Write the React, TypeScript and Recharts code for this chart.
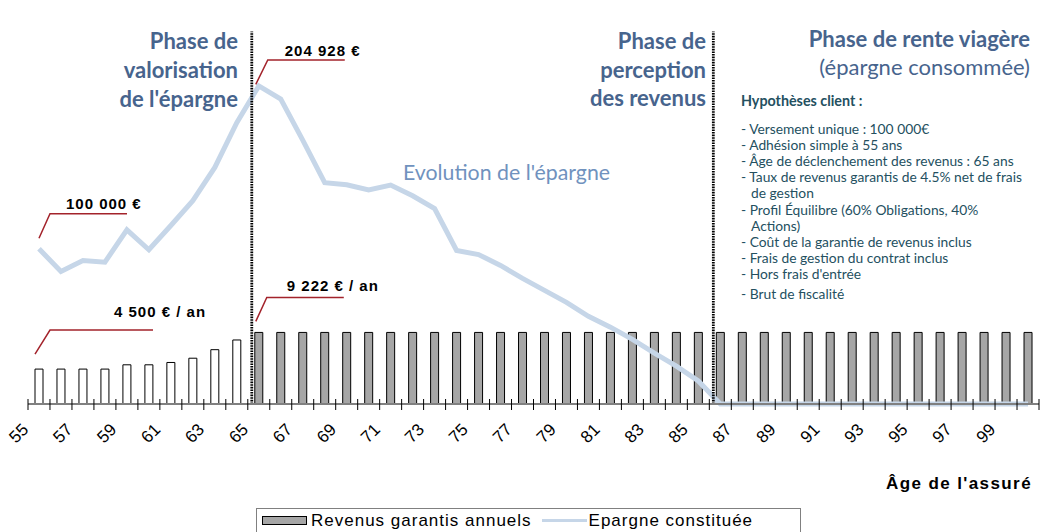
import React from "react";
import {
  ComposedChart,
  Bar,
  Line,
  XAxis,
  YAxis,
  Legend,
  ReferenceLine,
  Cell,
} from "recharts";

// Âges de l'assuré (axe des catégories)
const ages = [
  55, 56, 57, 58, 59, 60, 61, 62, 63, 64, 65, 66, 67, 68, 69, 70, 71, 72, 73, 74, 75, 76, 77,
  78, 79, 80, 81, 82, 83, 84, 85, 86, 87, 88, 89, 90, 91, 92, 93, 94, 95, 96, 97, 98, 99, 100,
];

// Revenus garantis annuels (€)
const revenus = [
  4500, 4500, 4500, 4500, 5050, 5050, 5350, 5900, 7000, 8250, 9222, 9222, 9222, 9222, 9222,
  9222, 9222, 9222, 9222, 9222, 9222, 9222, 9222, 9222, 9222, 9222, 9222, 9222, 9222, 9222,
  9222, 9222, 9222, 9222, 9222, 9222, 9222, 9222, 9222, 9222, 9222, 9222, 9222, 9222, 9222,
  9222,
];

// Epargne constituée (€)
const epargne = [
  100000, 85400, 92500, 91400, 112200, 99400, 115000, 131000, 152400, 181300, 204928, 196500,
  170000, 142600, 141300, 137900, 141100, 134200, 125900, 98900, 96300, 89300, 80900, 73200,
  65500, 56500, 49500, 41700, 32800, 24400, 14800, 0, 0, 0, 0, 0, 0, 0, 0, 0, 0, 0, 0, 0, 0, 0,
];

const tickLabels = [55, 57, 59, 61, 63, 65, 67, 69, 71, 73, 75, 77, 79, 81, 83, 85, 87, 89, 91, 93, 95, 97, 99];

// début des phases (lignes pointillées)
const phaseStarts = [65, 86];
const phaseLineTop = 240000;
const revenusStartAge = 65;

const phase1 = ["Phase de", "valorisation", "de l'épargne"];
const phase2 = ["Phase de", "perception", "des revenus"];
const phase3Title = "Phase de rente viagère";
const phase3Sub = "(épargne consommée)";
const hypoTitle = "Hypothèses client :";
const hypoLines = [
  "- Versement unique : 100 000€",
  "- Adhésion simple à 55 ans",
  "- Âge de déclenchement des revenus : 65 ans",
  "- Taux de revenus garantis de 4.5% net de frais",
  "  de gestion",
  "- Profil Équilibre (60% Obligations, 40%",
  "  Actions)",
  "- Coût de la garantie de revenus inclus",
  "- Frais de gestion du contrat inclus",
  "- Hors frais d'entrée",
  "- Brut de fiscalité",
];

const W = 1040;
const H = 532;
const M = { top: 16, right: 1, bottom: 68, left: 28 };
const XAXIS_H = 60;
const AXIS_Y = H - M.bottom - XAXIS_H;
const BAND = (W - M.left - M.right) / ages.length;

const BLUE_TITLE = "#47648d";
const LINE_COLOR = "#c6d6e8";
const GREY_BAR = "#a6a6a6";
const RED = "#a3232b";
const ARIAL = "'Liberation Sans', Arial, sans-serif";
const LATO = "Lato, 'Open Sans', sans-serif";

const data = ages.map((age, i) => ({ age, revenus: revenus[i], epargne: epargne[i] }));

const fmt = (v: number) => String(v).replace(/\B(?=(\d{3})+(?!\d))/g, " ");

// offsets des annotations (relatifs au point / à la barre)
const lineNotes: Record<number, any> = {
  0: { sx: 0, sy: -10.5, cx: 11, cy: -35, ex: 88, tx: 27, ty: -40 },
  10: { sx: -3, sy: -1.5, cx: 9, cy: -26, ex: 86, tx: 26, ty: -30 },
};
const barNotes: Record<number, any> = {
  0: { sx: 0, sy: -15, cx: 15, cy: -39, ex: 118, tx: 79, ty: -52 },
  10: { sx: 1, sy: -11, cx: 12, cy: -35, ex: 89, tx: 32, ty: -41 },
};

const Note = ({ x, y, n, text }: any) => (
  <g>
    <polyline
      points={`${x + n.sx},${y + n.sy} ${x + n.cx},${y + n.cy} ${x + n.ex},${y + n.cy}`}
      fill="none"
      stroke={RED}
      strokeWidth={1.5}
    />
    <text
      x={x + n.tx}
      y={y + n.ty}
      fontFamily={ARIAL}
      fontWeight="bold"
      fontSize={15}
      letterSpacing={1}
      fill="#000"
    >
      {text}
    </text>
  </g>
);

const renderLineNote = (props: any) => {
  const n = lineNotes[props.index];
  if (!n) return null;
  return <Note key={`ln${props.index}`} x={props.x} y={props.y} n={n} text={`${fmt(props.value)} €`} />;
};

const renderBarNote = (props: any) => {
  const n = barNotes[props.index];
  if (!n) return null;
  return <Note key={`bn${props.index}`} x={props.x} y={props.y} n={n} text={`${fmt(props.value)} € / an`} />;
};

// graduations entre catégories + étiquettes inclinées (centrées sur leur position)
const AgeTick = (props: any) => {
  const { x, payload, index } = props;
  const half = BAND / 2;
  const showLabel = tickLabels.includes(Number(payload.value));
  const cx = x - 20.5;
  const cy = AXIS_Y + 29;
  return (
    <g>
      <line x1={x - half} x2={x - half} y1={AXIS_Y - 5} y2={AXIS_Y + 6} stroke="#000" strokeWidth={1} />
      {index === ages.length - 1 && (
        <line x1={x + half} x2={x + half} y1={AXIS_Y - 5} y2={AXIS_Y + 6} stroke="#000" strokeWidth={1} />
      )}
      {showLabel && (
        <text
          x={cx}
          y={cy}
          dy="0.36em"
          transform={`rotate(-45, ${cx}, ${cy})`}
          textAnchor="middle"
          fontFamily={ARIAL}
          fontSize={17}
          fill="#000"
        >
          {payload.value}
        </text>
      )}
    </g>
  );
};

const PhaseLine = (props: any) => (
  <line
    x1={props.x1 + 4}
    x2={props.x2 + 4}
    y1={props.y1}
    y2={props.y2}
    stroke="#000"
    strokeWidth={2.8}
    strokeDasharray="1.6 1"
  />
);

const renderLegend = (props: any) => {
  // barres d'abord, puis la courbe
  const items = [...(props.payload || [])].sort((a: any, b: any) =>
    a.type === b.type ? 0 : a.type === "line" ? 1 : -1
  );
  return (
    <div
      style={{
        width: 545,
        height: 25,
        boxSizing: "border-box",
        border: "1px solid #808080",
        background: "#fff",
        display: "flex",
        alignItems: "center",
        fontFamily: ARIAL,
        fontSize: 17,
        letterSpacing: 1,
        color: "#000",
        whiteSpace: "nowrap",
      }}
    >
      {items.map((it: any) => (
        <div key={it.value} style={{ display: "flex", alignItems: "center" }}>
          {it.type === "line" ? (
            <span
              style={{ display: "inline-block", width: 45, height: 3, background: LINE_COLOR, margin: "0 2px 0 10px" }}
            />
          ) : (
            <span
              style={{
                display: "inline-block",
                width: 45,
                height: 9,
                boxSizing: "border-box",
                background: GREY_BAR,
                border: "1px solid #000",
                margin: "0 4px 0 5px",
              }}
            />
          )}
          <span>{it.value}</span>
        </div>
      ))}
    </div>
  );
};

export default function App() {
  return (
    <div style={{ position: "absolute", left: 0, top: 0, width: W, height: H, background: "#fff" }}>
      <ComposedChart width={W} height={H} data={data} margin={M}>
        <XAxis
          dataKey="age"
          interval={0}
          height={XAXIS_H}
          tickLine={false}
          axisLine={{ stroke: "#808080", strokeWidth: 2 }}
          tick={<AgeTick />}
        />
        <YAxis
          yAxisId="left"
          width={0}
          domain={[0, 250000]}
          tick={false}
          tickLine={false}
          axisLine={{ stroke: "#808080", strokeWidth: 2 }}
        />
        <YAxis
          yAxisId="right"
          orientation="right"
          width={0}
          domain={[0, 50000]}
          tick={false}
          tickLine={false}
          axisLine={{ stroke: "#222", strokeWidth: 1.5 }}
        />
        <Bar
          yAxisId="right"
          dataKey="revenus"
          name="Revenus garantis annuels"
          fill={GREY_BAR}
          stroke="#000"
          strokeWidth={1}
          barSize={8}
          isAnimationActive={false}
          label={renderBarNote}
          legendType="rect"
        >
          {data.map((d) => (
            <Cell key={d.age} fill={d.age < revenusStartAge ? "#fff" : GREY_BAR} />
          ))}
        </Bar>
        <Line
          yAxisId="left"
          dataKey="epargne"
          name="Epargne constituée"
          stroke={LINE_COLOR}
          strokeWidth={5}
          dot={false}
          activeDot={false}
          isAnimationActive={false}
          label={renderLineNote}
          legendType="line"
        />
        {phaseStarts.map((a) => (
          <ReferenceLine
            key={a}
            yAxisId="left"
            position="start"
            segment={[
              { x: a, y: 0 },
              { x: a, y: phaseLineTop },
            ]}
            shape={<PhaseLine />}
          />
        ))}
        <Legend
          layout="horizontal"
          verticalAlign="middle"
          align="center"
          wrapperStyle={{ left: 256, top: 508, width: 545, height: 25 }}
          content={renderLegend}
        />

        {/* textes de phases */}
        <g fontFamily={LATO} fill={BLUE_TITLE}>
          {phase1.map((t, i) => (
            <text key={`p1${i}`} x={238} y={49 + i * 29} textAnchor="end" fontWeight="bold" fontSize={22}>
              {t}
            </text>
          ))}
          {phase2.map((t, i) => (
            <text key={`p2${i}`} x={706} y={49 + i * 28.5} textAnchor="end" fontWeight="bold" fontSize={22}>
              {t}
            </text>
          ))}
          <text x={1030} y={47} textAnchor="end" fontWeight="bold" fontSize={22}>
            {phase3Title}
          </text>
          <text x={1030} y={75} textAnchor="end" fontSize={22}>
            {phase3Sub}
          </text>
        </g>
        <text x={403} y={180} fontFamily={LATO} fontSize={21.3} fill="#7092be">
          Evolution de l'épargne
        </text>
        <g fontFamily={LATO} fill="#24505f">
          <text x={741} y={106} fontWeight="bold" fontSize={14.3}>
            {hypoTitle}
          </text>
          {hypoLines.map((t, i) => (
            <text
              key={`h${i}`}
              x={t.startsWith("  ") ? 751 : 741}
              y={133.5 + i * 16.2 + (i === hypoLines.length - 1 ? 3 : 0)}
              fontSize={13.8}
            >
              {t.trim()}
            </text>
          ))}
        </g>
        <text
          x={886}
          y={489}
          fontFamily={ARIAL}
          fontWeight="bold"
          fontSize={17}
          letterSpacing={1.4}
          fill="#000"
        >
          Âge de l'assuré
        </text>
      </ComposedChart>
    </div>
  );
}
